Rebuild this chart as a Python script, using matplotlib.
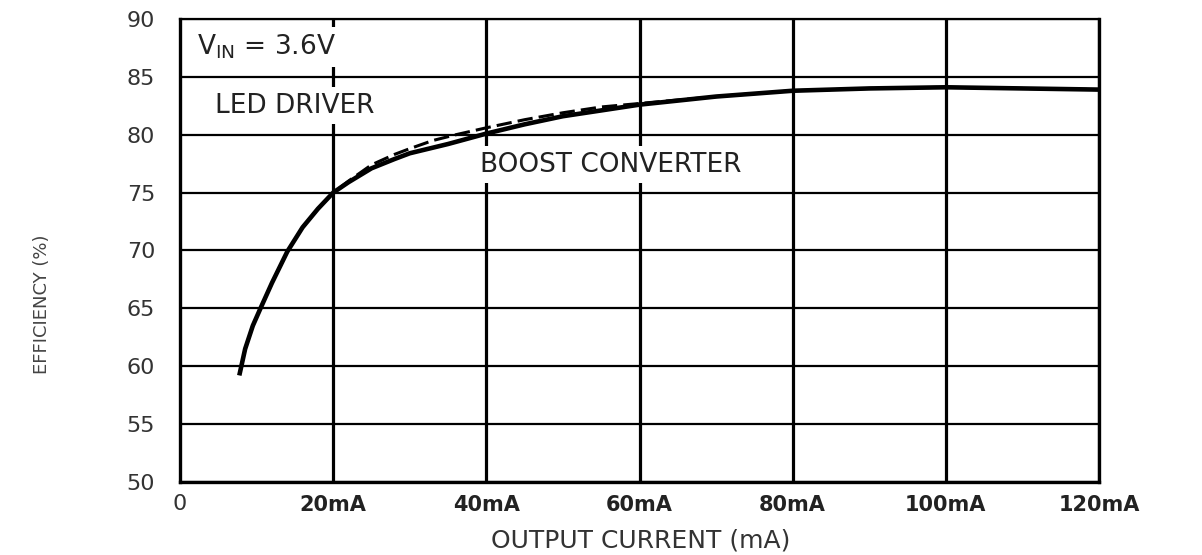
import matplotlib
matplotlib.use("Agg")
import matplotlib.pyplot as plt

# efficiency vs output current
boost_ma = [7.8, 8.5, 9.5, 10.5, 12, 14, 16, 18, 20, 22, 25, 28, 30, 35, 40,
            45, 50, 55, 60, 70, 80, 90, 100, 110, 120]
boost_eff = [59.4, 61.5, 63.5, 65.0, 67.2, 69.9, 72.0, 73.6, 75.0, 75.9, 77.1,
             77.9, 78.4, 79.2, 80.1, 80.9, 81.6, 82.1, 82.6, 83.3, 83.8, 84.0,
             84.1, 84.0, 83.9]

led_ma = [7.8, 8.5, 9.5, 10.5, 12, 14, 16, 18, 20, 22, 25, 28, 30, 33, 36,
          40, 45, 50, 55, 60, 70, 80, 90, 100, 110, 120]
led_eff = [59.4, 61.5, 63.5, 65.0, 67.2, 69.9, 72.0, 73.6, 75.0, 76.0, 77.4,
           78.3, 78.8, 79.5, 80.0, 80.6, 81.3, 81.9, 82.4, 82.7, 83.3, 83.8,
           84.0, 84.1, 84.0, 83.9]

x_ticks = [20, 40, 60, 80, 100, 120]
x_labels = ["20mA", "40mA", "60mA", "80mA", "100mA", "120mA"]
y_ticks = [50, 55, 60, 65, 70, 75, 80, 85, 90]

fig = plt.figure(figsize=(12.02, 5.55), dpi=100)
ax = fig.add_axes([0.1498, 0.1315, 0.7645, 0.8343])

ax.set_xlim(0, 120)
ax.set_ylim(50, 90)

ax.set_xticks(x_ticks)
ax.set_xticklabels(x_labels, fontsize=15, fontweight="bold", color="#222222")
ax.set_yticks(y_ticks)
ax.set_yticklabels([str(v) for v in y_ticks], fontsize=16, color="#333333")
ax.tick_params(axis="x", length=0, pad=9)
ax.tick_params(axis="y", length=0, pad=18)

ax.grid(axis="x", color="black", linewidth=2.3, zorder=1)
ax.grid(axis="y", color="black", linewidth=1.6, zorder=1)
ax.set_axisbelow(True)
for side in ["left", "bottom", "top", "right"]:
    ax.spines[side].set_linewidth(2.4)
ax.spines["top"].set_linewidth(1.6)

ax.plot(led_ma, led_eff, color="black", linewidth=2.2, dashes=(5, 2), zorder=4)
ax.plot(boost_ma, boost_eff, color="black", linewidth=3.3, zorder=5)

# origin label sits lower than the others
ax.annotate("0", xy=(0, 50), xytext=(0, -16), textcoords="offset points",
            ha="center", va="center", fontsize=16, color="#333333",
            annotation_clip=False)

box = dict(facecolor="white", edgecolor="none", pad=4)
ax.text(2.2, 87.6, r"V$_{\mathregular{IN}}$ = 3.6V", fontsize=19, color="#222222",
        va="center", ha="left", bbox=box, zorder=6)
ax.text(4.6, 82.5, "LED DRIVER", fontsize=19, color="#222222",
        va="center", ha="left", bbox=box, zorder=6)
ax.text(39.2, 77.4, "BOOST CONVERTER", fontsize=19, color="#222222",
        va="center", ha="left", bbox=box, zorder=6)

fig.text(0.533, 0.026, "OUTPUT CURRENT (mA)", fontsize=18, color="#333333",
         ha="center", va="center")
fig.text(0.035, 0.452, "EFFICIENCY (%)", rotation=90, fontsize=13,
         color="#444444", ha="center", va="center")

fig.savefig("out.png", dpi=100, facecolor="white")
